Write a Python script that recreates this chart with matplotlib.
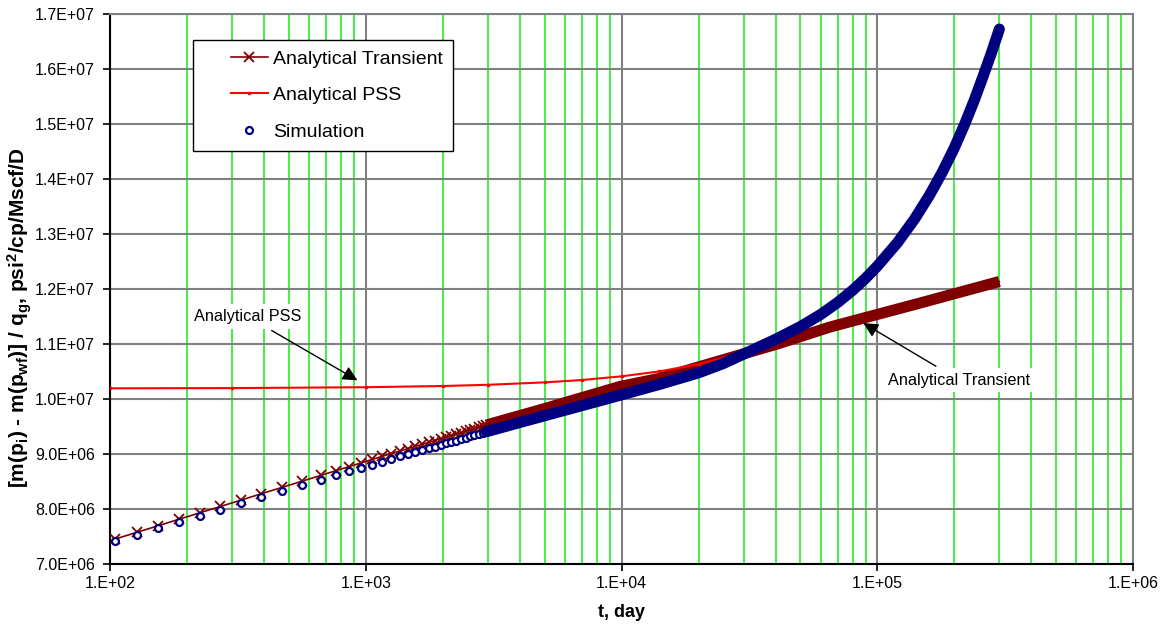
import matplotlib
matplotlib.use('Agg')
import matplotlib.pyplot as plt
from matplotlib.lines import Line2D
from matplotlib.legend_handler import HandlerLine2D
from matplotlib.ticker import LogLocator, FixedLocator, FixedFormatter, NullFormatter

plt.rcParams['font.family'] = ['Liberation Sans', 'DejaVu Sans']
plt.rcParams['mathtext.fontset'] = 'custom'
plt.rcParams['mathtext.rm'] = 'Liberation Sans:bold'
plt.rcParams['mathtext.it'] = 'Liberation Sans:bold'
plt.rcParams['mathtext.bf'] = 'Liberation Sans:bold'
plt.rcParams['mathtext.default'] = 'bf'

# early time steps (markers still visible one by one), days
t_early = [105, 128, 154, 186, 225, 270, 326, 390, 469, 565, 666, 765, 860, 960,
           1060, 1160, 1260, 1360, 1460, 1560, 1660, 1760, 1860, 1960,
           2060, 2160, 2260, 2360, 2460, 2560, 2660, 2760, 2860, 2960]
transient_early = [7.45e6, 7.574e6, 7.689e6, 7.808e6, 7.927e6, 8.041e6, 8.158e6,
                   8.271e6, 8.386e6, 8.502e6, 8.605e6, 8.692e6, 8.765e6, 8.834e6,
                   8.896e6, 8.953e6, 9.003e6, 9.049e6, 9.093e6, 9.133e6, 9.171e6,
                   9.206e6, 9.240e6, 9.272e6, 9.302e6, 9.331e6, 9.358e6, 9.385e6,
                   9.410e6, 9.434e6, 9.457e6, 9.480e6, 9.501e6, 9.522e6]
sim_early = [7.41e6, 7.53e6, 7.645e6, 7.76e6, 7.875e6, 7.985e6, 8.10e6, 8.21e6,
             8.32e6, 8.43e6, 8.53e6, 8.61e6, 8.68e6, 8.745e6, 8.80e6, 8.855e6,
             8.905e6, 8.95e6, 8.99e6, 9.03e6, 9.065e6, 9.10e6, 9.13e6, 9.16e6,
             9.19e6, 9.215e6, 9.24e6, 9.265e6, 9.29e6, 9.315e6, 9.335e6, 9.36e6,
             9.38e6, 9.40e6]

# late times, where the markers merge into a band
t_trans_late = [2960, 4910, 9820, 14060, 41000, 64940, 146000, 300000]
transient_late = [9.522e6, 9.81e6, 1.022e7, 1.037e7, 1.100e7, 1.130e7, 1.1736e7, 1.2131e7]

t_sim_late = [2960, 4910, 9820, 14060, 20000, 25000, 30000, 40000, 50000, 60000,
              70000, 80000, 90000, 100000, 120000, 140000, 160000, 180000, 200000,
              220000, 240000, 260000, 280000, 300000]
sim_late = [9.40e6, 9.68e6, 1.006e7, 1.026e7, 1.047e7, 1.064e7, 1.081e7, 1.108e7,
            1.131e7, 1.153e7, 1.175e7, 1.197e7, 1.219e7, 1.241e7, 1.284e7, 1.327e7,
            1.370e7, 1.413e7, 1.456e7, 1.500e7, 1.544e7, 1.588e7, 1.630e7, 1.672e7]

t_pss = [100, 300, 1000, 2000, 3000, 5000, 7000, 10000, 14000, 20000, 30000,
         50000, 75000, 100000, 150000, 200000, 250000, 300000]
pss = [1.0189e7, 1.0193e7, 1.0209e7, 1.0231e7, 1.0253e7, 1.0297e7, 1.034e7,
       1.0407e7, 1.0495e7, 1.0627e7, 1.0847e7, 1.1287e7, 1.1837e7, 1.2387e7,
       1.3487e7, 1.4587e7, 1.5687e7, 1.6787e7]

x_ticks = [1e2, 1e3, 1e4, 1e5, 1e6]
x_labels = ['1.E+02', '1.E+03', '1.E+04', '1.E+05', '1.E+06']
y_ticks = [7e6, 8e6, 9e6, 1e7, 1.1e7, 1.2e7, 1.3e7, 1.4e7, 1.5e7, 1.6e7, 1.7e7]

c_trans = '#800000'
c_pss = '#ff0000'
c_sim = '#000080'

fig = plt.figure(figsize=(11.62, 6.26), dpi=100)
ax = fig.add_axes([0.0947, 0.0995, 0.8804, 0.8786])
ax.set_xscale('log')

# analytical transient: thin line with x markers, then the merged band
h_trans, = ax.plot(t_early + t_trans_late[1:], transient_early + transient_late[1:],
                   color=c_trans, lw=1.2, marker='x', ms=6.5, mew=1.3,
                   markevery=list(range(len(t_early))), zorder=3,
                   label='Analytical Transient')
ax.plot(t_trans_late, transient_late, color=c_trans, lw=8,
        solid_capstyle='butt', zorder=3)

h_pss, = ax.plot(t_pss, pss, color=c_pss, lw=1.5, marker='s', ms=2,
                 zorder=4, label='Analytical PSS')

h_sim, = ax.plot(t_early, sim_early, ls='none', marker='o', ms=5,
                 mfc='white', mec=c_sim, mew=1.6, zorder=5, label='Simulation')
ax.plot(t_sim_late, sim_late, color=c_sim, lw=8, solid_capstyle='round',
        solid_joinstyle='round', zorder=5)

ax.set_xlim(1e2, 1e6)
ax.set_ylim(7e6, 1.7e7)

ax.xaxis.set_major_locator(FixedLocator(x_ticks))
ax.xaxis.set_major_formatter(FixedFormatter(x_labels))
ax.xaxis.set_minor_locator(LogLocator(base=10, subs=[2, 3, 4, 5, 6, 7, 8, 9]))
ax.xaxis.set_minor_formatter(NullFormatter())
ax.set_yticks(y_ticks)
ax.set_yticklabels(['{:.1E}'.format(v) for v in y_ticks])

ax.grid(which='minor', axis='x', color='#22ee22', lw=1.2, zorder=0)
ax.grid(which='major', axis='both', color='#808080', lw=1.5, zorder=0)
ax.set_axisbelow(True)
ax.tick_params(which='minor', length=0)
ax.tick_params(which='major', direction='out', length=5, width=1.2, labelsize=11.5)
ax.tick_params(axis='x', pad=4)
ax.tick_params(axis='y', pad=6)

for side in ['left', 'bottom']:
    ax.spines[side].set_color('black')
    ax.spines[side].set_linewidth(1.5)
for side in ['right', 'top']:
    ax.spines[side].set_color('#808080')
    ax.spines[side].set_linewidth(1.5)

ax.set_xlabel('t, day', fontsize=13, fontweight='bold', labelpad=9)
ax.set_ylabel(r'[m(p$_i$) - m(p$_{wf}$)] / q$_g$, psi$^2$/cp/Mscf/D',
              fontsize=15, fontweight='bold')
ax.yaxis.set_label_coords(-0.074, 0.448)

leg = ax.legend(handles=[h_trans, h_pss, h_sim], loc='upper left',
                bbox_to_anchor=(0.0811, 0.952), borderaxespad=0,
                fontsize=14, frameon=True, fancybox=False, framealpha=1,
                edgecolor='black', handlelength=3.35, handletextpad=0.25,
                labelspacing=0.96, borderpad=0.53,
                handler_map={Line2D: HandlerLine2D(numpoints=1, xpad=1.4)})
leg.get_frame().set_linewidth(1.0)
leg.set_zorder(10)

arrow = dict(arrowstyle='-|>', color='black', lw=1.0, mutation_scale=22)
ax.annotate('Analytical PSS', xy=(948, 1.0309e7), xytext=(346, 1.1491e7),
            ha='center', va='center', fontsize=11.7, arrowprops=arrow,
            bbox=dict(boxstyle='square,pad=0.3', fc='white', ec='none'),
            zorder=8)
ax.annotate('Analytical Transient', xy=(86300, 1.14e7), xytext=(208900, 1.034e7),
            ha='center', va='center', fontsize=11.7, arrowprops=arrow,
            bbox=dict(boxstyle='square,pad=0.3', fc='white', ec='none'),
            zorder=8)

fig.savefig('out.png', dpi=100)
